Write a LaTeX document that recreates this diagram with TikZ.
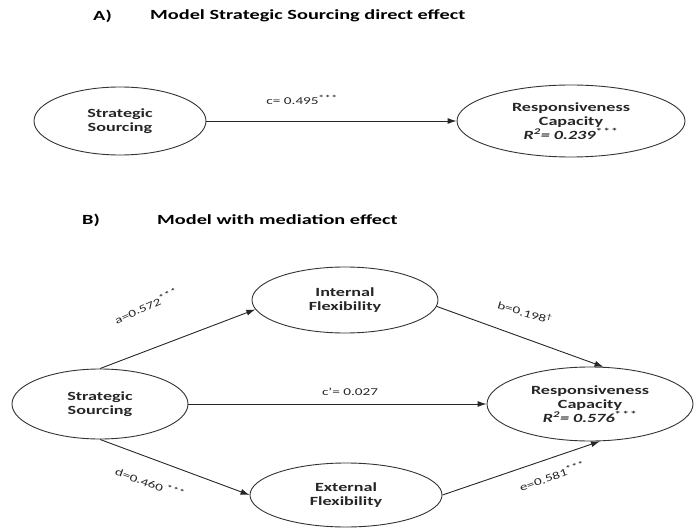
\documentclass[tikz,border=0pt]{standalone}
\usepackage{fontspec}
\setmainfont{Carlito}[FakeStretch=1.45]
\usetikzlibrary{shapes.geometric,arrows.meta}

\def\stars{\textsuperscript{\bfseries *\,*\,*}}
\def\fontnode{\fontsize{12.5}{14}\selectfont\bfseries}
\def\fontlabel{\fontsize{10.5}{12}\selectfont}

\begin{document}
\begin{tikzpicture}[x=1pt,y=-1pt,
	>={Latex[length=9pt,width=6pt]},
	latent/.style={ellipse,draw=black!80,line width=0.9pt,inner sep=0pt,
		align=center,text=black!85,font=\fontnode},
	path/.style={->,draw=black!85,line width=0.9pt},
	coef/.style={font=\fontlabel,text=black!85,inner sep=1pt},
	titel/.style={font=\fontsize{14}{16}\selectfont\bfseries,anchor=west,inner sep=0pt}]
\useasboundingbox (0,0) rectangle (695,529);

% A) direct effect
\node[titel] (ta) at (93,16) {A)};
\node[titel] (tta) at (150,16) {Model Strategic Sourcing direct effect};
\node[latent,minimum width=172pt,minimum height=68pt] (ssA) at (120,121)
	{Strategic\\Sourcing};
\node[latent,minimum width=228pt,minimum height=72pt] (rcA) at (571,121)
	{Responsiveness\\Capacity\\\textit{R\textsuperscript{2}= 0.239}\stars};
\draw[path] (ssA.east) -- (rcA.west);
\node[coef] (lc) at (302,100) {c= 0.495\stars};

% B) mediation effect
\node[titel] (tb) at (82,220) {B)};
\node[titel] (ttb) at (157,220) {Model with mediation effect};
\node[latent,minimum width=176pt,minimum height=70pt] (ssB) at (100,404)
	{Strategic\\Sourcing};
\node[latent,minimum width=186pt,minimum height=66pt] (ifl) at (345,300)
	{Internal\\Flexibility};
\node[latent,minimum width=192pt,minimum height=64pt] (efl) at (346,495)
	{External\\Flexibility};
\node[latent,minimum width=206pt,minimum height=74pt] (rcB) at (590,404)
	{Responsiveness\\Capacity\\\textit{R\textsuperscript{2}= 0.576}\stars};

\draw[path] (ssB.north) -- (ifl.186);
\draw[path] (ifl.-4) -- (rcB.70);
\draw[path] (ssB.east) -- (rcB.west);
\draw[path] (ssB.south) -- (efl.west);
\draw[path] (efl.east) -- (rcB.-75);

\node[coef,rotate=24] (la) at (146,306) {a=0.572\stars};
\node[coef,rotate=-16] (lb) at (525,312) {b=0.198\textsuperscript{†}};
\node[coef] (lcc) at (350,392) {c’= 0.027};
\node[coef,rotate=-20] (ld) at (150,483) {d=0.460 \stars};
\node[coef,rotate=19] (le) at (552,476) {e=0.581\stars};
\end{tikzpicture}
\end{document}
